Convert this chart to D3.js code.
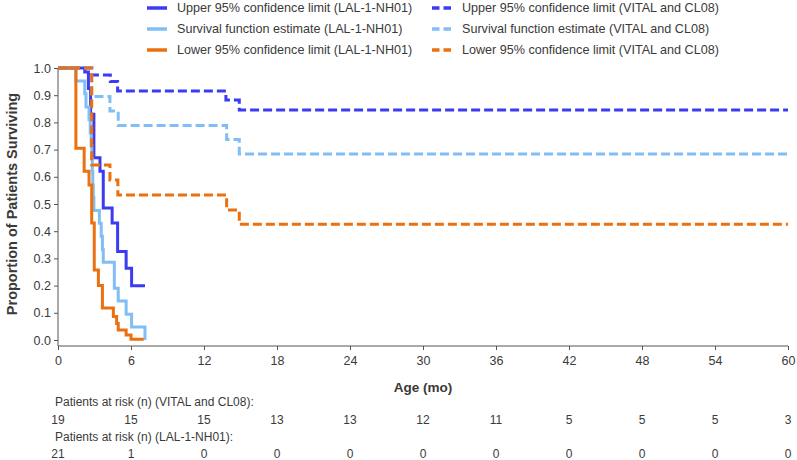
<!DOCTYPE html>
<html><head><meta charset="utf-8">
<script src="https://cdn.jsdelivr.net/npm/d3@7"></script>
<style>
html,body{margin:0;padding:0;background:#fff;}
svg{display:block;font-family:"Liberation Sans",Arial,Helvetica,sans-serif;}
</style></head>
<body>
<svg id="chart" width="797" height="460"></svg>
<script>
// ---------- data ----------
const xTicks = [0,6,12,18,24,30,36,42,48,54,60];
const yTicks = [0,0.1,0.2,0.3,0.4,0.5,0.6,0.7,0.8,0.9,1.0];

// LAL-1-NH01 (solid)
const lalUpT = [0, 2.2, 2.5, 2.68, 2.95, 3.45, 3.72, 4.45, 4.9, 5.6, 6.05, 7.15];
const lalUpS = [1, 0.985, 0.925, 0.83, 0.67, 0.62, 0.485, 0.43, 0.325, 0.264, 0.199, 0.199];
const lalSurvT = [0, 1.47, 2.2, 2.3, 2.55, 2.65, 2.72, 2.78, 2.82, 2.86, 2.9, 2.95, 3.4, 3.55, 3.65, 3.72, 4.63, 4.95, 5.6, 6.05, 7.15];
const lalSurvS = [1, 0.952, 0.905, 0.857, 0.810, 0.762, 0.714, 0.667, 0.619, 0.571, 0.524, 0.476, 0.429, 0.381, 0.333, 0.286, 0.190, 0.143, 0.095, 0.048, 0];
const lalLoT = [0, 1.47, 2.15, 2.55, 2.77, 2.98, 3.32, 3.65, 4.55, 4.82, 4.95, 5.6, 6.0, 7.05];
const lalLoS = [1, 0.705, 0.62, 0.57, 0.43, 0.257, 0.2, 0.118, 0.086, 0.061, 0.037, 0.018, 0.003, 0.003];

// VITAL and CL08 (dashed)
const vitUpT = [0, 2.77, 4.3, 4.9, 13.8, 14.9, 60];
const vitUpS = [1, 0.974, 0.95, 0.915, 0.882, 0.846, 0.846];
const vitSurvT = [0, 2.77, 4.27, 4.95, 13.86, 14.9, 60];
const vitSurvS = [1, 0.895, 0.842, 0.789, 0.737, 0.684, 0.684];
const vitLoT = [0, 2.77, 4.27, 4.92, 13.86, 14.9, 60];
const vitLoS = [1, 0.643, 0.588, 0.533, 0.478, 0.426, 0.426];

// patients at risk
const riskVital = [19,15,15,13,13,12,11,5,5,5,3];
const riskLal = [21,1,0,0,0,0,0,0,0,0,0];

const seriesNames = [
  "Upper 95% confidence limit (LAL-1-NH01)",
  "Survival function estimate (LAL-1-NH01)",
  "Lower 95% confidence limit (LAL-1-NH01)",
  "Upper 95% confidence limit (VITAL and CL08)",
  "Survival function estimate (VITAL and CL08)",
  "Lower 95% confidence limit (VITAL and CL08)"
];

// ---------- styles ----------
const DARK = "#3b3bf3", LIGHT = "#80bef5", ORANGE = "#ea7010";
const DASH = "9,4";
const series = [
  {name: seriesNames[0], t: lalUpT, s: lalUpS, color: DARK, dash: null},
  {name: seriesNames[1], t: lalSurvT, s: lalSurvS, color: LIGHT, dash: null},
  {name: seriesNames[2], t: lalLoT, s: lalLoS, color: ORANGE, dash: null},
  {name: seriesNames[3], t: vitUpT, s: vitUpS, color: DARK, dash: DASH},
  {name: seriesNames[4], t: vitSurvT, s: vitSurvS, color: LIGHT, dash: DASH},
  {name: seriesNames[5], t: vitLoT, s: vitLoS, color: ORANGE, dash: DASH}
];

const svg = d3.select("#chart");
const x = d3.scaleLinear().domain([0,60]).range([58,788]);
const y = d3.scaleLinear().domain([0,1]).range([340,68]);
const axisY = 346;
const TXT = "#3a3a3a", AX = "#555";

// ---------- axes ----------
const gx = svg.append("g").attr("transform",`translate(0,${axisY})`)
  .call(d3.axisBottom(x).tickValues(xTicks).tickSize(4).tickPadding(6).tickFormat(d3.format("d")));
gx.select(".domain").attr("stroke",AX).attr("d",`M${x(0)},0H${x(60)}`);
gx.selectAll(".tick line").attr("stroke",AX);
gx.selectAll(".tick text").attr("fill",TXT).attr("font-size","12.5px");

const gy = svg.append("g").attr("transform",`translate(${x(0)},0)`)
  .call(d3.axisLeft(y).tickValues(yTicks).tickSize(4).tickPadding(3).tickFormat(d3.format(".1f")));
gy.select(".domain").attr("stroke",AX).attr("d",`M0,${y(1)}V${axisY}`);
gy.selectAll(".tick line").attr("stroke",AX);
gy.selectAll(".tick text").attr("fill",TXT).attr("font-size","12.5px");

svg.append("text").attr("x",(x(0)+x(60))/2).attr("y",392)
  .attr("text-anchor","middle").attr("font-weight","bold").attr("font-size","13.5px")
  .attr("fill",TXT).text("Age (mo)");
svg.append("text").attr("transform",`translate(17,${(y(0)+y(1))/2}) rotate(-90)`)
  .attr("text-anchor","middle").attr("font-weight","bold").attr("font-size","14.5px")
  .attr("fill",TXT).text("Proportion of Patients Surviving");

// ---------- lines ----------
const line = d3.line().x(d=>x(d[0])).y(d=>y(d[1])).curve(d3.curveStepAfter);
series.forEach(sr=>{
  const pts = sr.t.map((t,i)=>[t, sr.s[i]]);
  svg.append("path").datum(pts).attr("d",line)
    .attr("fill","none").attr("stroke",sr.color).attr("stroke-width",3)
    .attr("stroke-dasharray",sr.dash).attr("stroke-linejoin","miter");
});

// ---------- legend ----------
const legX = [147, 432], legY = [8, 29, 50];
series.forEach((sr,i)=>{
  const col = Math.floor(i/3), row = i%3;
  const g = svg.append("g").attr("transform",`translate(${legX[col]},${legY[row]})`);
  g.append("line").attr("x1",0).attr("x2",20).attr("y1",0).attr("y2",0)
    .attr("stroke",sr.color).attr("stroke-width",3.5).attr("stroke-dasharray",sr.dash ? "7.5,4" : null);
  g.append("text").attr("x",30).attr("y",0).attr("dy","0.35em")
    .attr("font-size","12.6px").attr("fill",TXT).text(sr.name);
});

// ---------- risk table ----------
const rt = svg.append("g").attr("font-size","12px").attr("fill",TXT);
rt.append("text").attr("x",55).attr("y",406).text("Patients at risk (n) (VITAL and CL08):");
rt.selectAll(".rv").data(riskVital).join("text").attr("class","rv")
  .attr("x",(d,i)=>x(xTicks[i])).attr("y",424).attr("text-anchor","middle").text(d=>d);
rt.append("text").attr("x",55).attr("y",441).text("Patients at risk (n) (LAL-1-NH01):");
rt.selectAll(".rl").data(riskLal).join("text").attr("class","rl")
  .attr("x",(d,i)=>x(xTicks[i])).attr("y",457.5).attr("text-anchor","middle").text(d=>d);
</script>
</body></html>
